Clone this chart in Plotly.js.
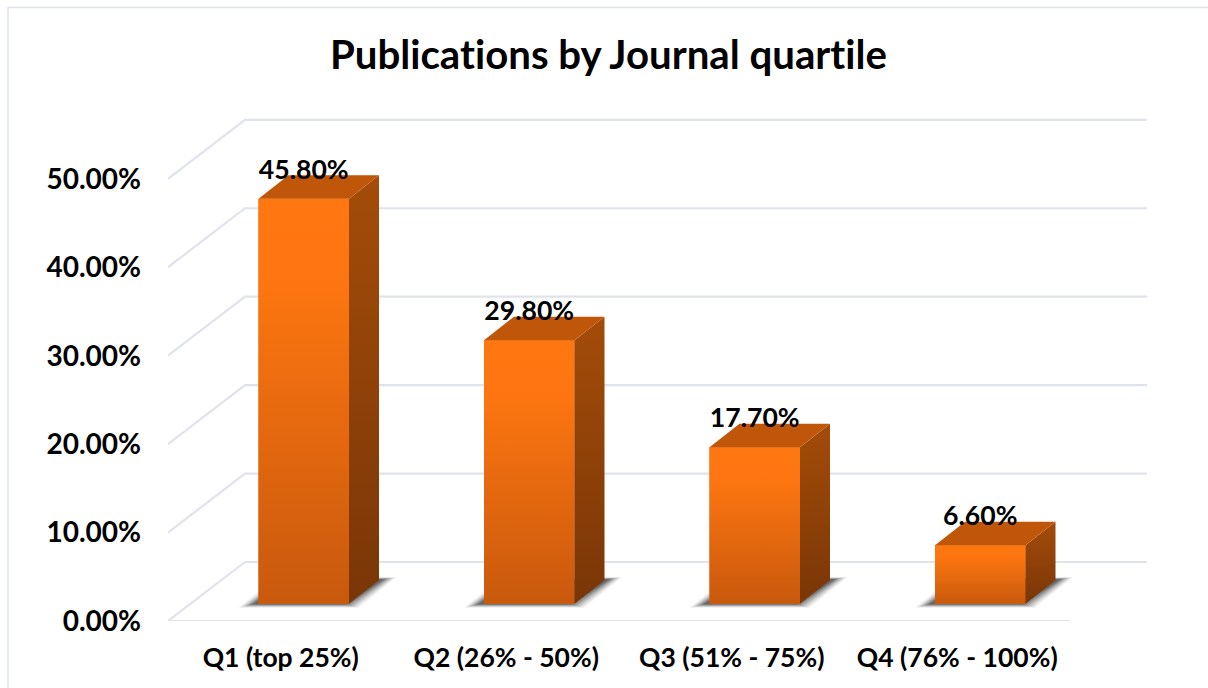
<!DOCTYPE html>
<html>
<head>
<meta charset="utf-8">
<script src="https://cdn.plot.ly/plotly-3.0.1.min.js"></script>
<style>html,body{margin:0;padding:0;background:#fff;overflow:hidden}#chart{width:1208px;height:688px}svg text{font-variant-ligatures:none !important;font-feature-settings:"liga" 0,"clig" 0 !important}</style>
</head>
<body>
<div id="chart"></div>
<script>
const chartTitle = 'Publications by Journal quartile';
const categories = ['Q1 (top 25%)', 'Q2 (26% - 50%)', 'Q3 (51% - 75%)', 'Q4 (76% - 100%)'];
const shares = [45.8, 29.8, 17.7, 6.6];
const shareLabels = ['45.80%', '29.80%', '17.70%', '6.60%'];
const axisTicks = [0, 10, 20, 30, 40, 50];
const axisLabels = ['0.00%', '10.00%', '20.00%', '30.00%', '40.00%', '50.00%'];

// Projection of the pseudo-3D scene (pixels per axis unit and depth offsets)
const W = 1208, H = 688, L = 168, R = 1150, T = 110, B = 620.8;
const pxPerCat = 225.5, pxPerUnit = 8.84;
const ux = p => p / pxPerCat, uy = p => p / pxPerUnit;
const xMin = -0.5, xMax = xMin + ux(R - L), yMax = uy(B - T);
const wallDX = ux(77), wallDY = uy(59), floorEnd = 3.5;
const barW = ux(90.5), barShift = ux(23), barLift = uy(17.3), depthX = ux(30), depthY = uy(23.5);
const GRID = '#e0e3ec';

const line = (pts, w) => ({type: 'path', layer: 'below', xref: 'x', yref: 'y',
  path: 'M' + pts.map(p => p[0] + ',' + p[1]).join('L'),
  line: {color: GRID, width: w || 2.2}});
const shapes = [];
// frame of the chart area
shapes.push({type: 'path', layer: 'below', xref: 'paper', yref: 'paper',
  path: 'M' + (8 - L) / (R - L) + ',' + (B - H) / (B - T) + 'L' + (8 - L) / (R - L) + ',' + (B - 7.5) / (B - T) + 'L' + (W - L) / (R - L) + ',' + (B - 7.5) / (B - T),
  line: {color: GRID, width: 1.5}});
// floor and walls
axisTicks.forEach(t => {
  shapes.push(line([[xMin, t], [xMin + wallDX, t + wallDY], [floorEnd + wallDX, t + wallDY]]));
});
shapes.push(line([[xMin, 0], [floorEnd, 0]]));
// soft shadows as nested parallelograms
const xs = categories.map((c, i) => i + barShift);
xs.forEach(cx => {
  const left = cx - barW / 2, right = cx + barW / 2;
  [[14, 0.06], [12, 0.08], [10, 0.1], [8, 0.12], [6, 0.15], [4, 0.18], [2, 0.22], [0, 0.28]].forEach(([g, a]) => {
    const y0 = barLift - uy(0.5 + g * 0.25), y1 = barLift + depthY + uy(1 + g * 0.15);
    const x0 = left - ux(6 + g), x1 = right - ux(3 - g * 0.9);
    const sk = ux(38);
    shapes.push({type: 'path', layer: 'below', xref: 'x', yref: 'y',
      path: `M${x0},${y0}L${x0 + sk},${y1}L${x1 + sk},${y1}L${x1},${y0}Z`,
      fillcolor: `rgba(50,50,50,${a})`, line: {width: 0}});
  });
});

const traces = [];
// front faces
traces.push({type: 'bar', x: xs, y: shares, base: shares.map(() => barLift), width: barW,
  marker: {color: '#e0660f', line: {width: 0}}, hoverinfo: 'skip', showlegend: false});
shares.forEach((v, i) => {
  const left = xs[i] - barW / 2, right = xs[i] + barW / 2, lo = barLift, hi = barLift + v;
  const poly = (xa, ya, grad, col) => {
    const t = {type: 'scatter', mode: 'lines', x: xa, y: ya, fill: 'toself', line: {width: 0},
      hoverinfo: 'skip', showlegend: false, cliponaxis: false};
    if (grad) t.fillgradient = {type: 'vertical', colorscale: grad}; else t.fillcolor = col;
    traces.push(t);
  };
  // front gradient
  poly([left, right, right, left, left], [lo, lo, hi, hi, lo], [[0, '#c8590d'], [0.78, '#fc7510'], [1, '#ff7711']]);
  // side
  poly([right, right + depthX, right + depthX, right, right],
       [lo, lo + depthY, hi + depthY, hi, lo], [[0, '#793607'], [1, '#a44c09']]);
  // top
  poly([left, right, right + depthX, left + depthX, left],
       [hi, hi, hi + depthY, hi + depthY, hi], null, '#bf5609');
});
// data labels
traces.push({type: 'scatter', mode: 'text', x: xs, y: shares.map(v => v + barLift + uy(26.5)),
  text: shareLabels, textposition: 'middle center', cliponaxis: false,
  textfont: {family: 'Lato', size: 26.6, weight: 700, color: '#000'}, hoverinfo: 'skip', showlegend: false});

const layout = {
  width: W, height: H, paper_bgcolor: '#fff', plot_bgcolor: 'rgba(0,0,0,0)',
  margin: {l: L, r: W - R, t: T, b: H - B, pad: 0},
  showlegend: false, barmode: 'overlay', shapes,
  title: {text: chartTitle, x: 608.5 / W, xanchor: 'center', xref: 'container', y: 1 - 55 / H, yanchor: 'middle', yref: 'container',
    font: {family: 'Lato', size: 40.2, weight: 700, color: '#000'}},
  xaxis: {range: [xMin, xMax], tickmode: 'array', tickvals: categories.map((c, i) => i), ticktext: categories,
    showgrid: false, zeroline: false, showline: false, ticks: '', ticklabelstandoff: 18,
    tickfont: {family: 'Lato', size: 26.5, weight: 700, color: '#000'}, fixedrange: true},
  yaxis: {range: [0, yMax], tickmode: 'array', tickvals: axisTicks, ticktext: axisLabels,
    showgrid: false, zeroline: false, showline: false, ticks: '', ticklabelstandoff: 26,
    tickfont: {family: 'Lato', size: 28, weight: 700, color: '#000'}, fixedrange: true}
};
Plotly.newPlot('chart', traces, layout, {displayModeBar: false, staticPlot: true});
</script>
</body>
</html>
